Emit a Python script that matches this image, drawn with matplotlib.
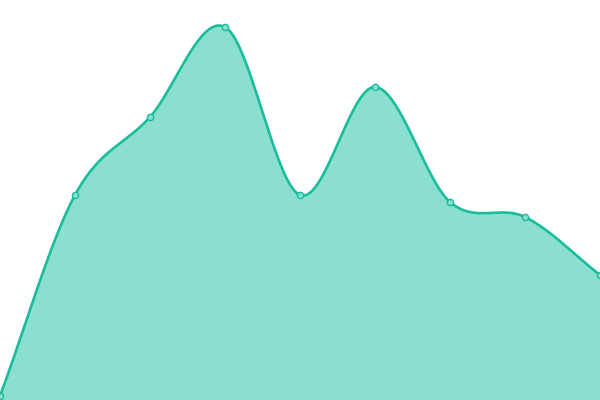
import numpy as np
import matplotlib
matplotlib.use("Agg")
import matplotlib.pyplot as plt

# data
x_vals = [0, 1, 2, 3, 4, 5, 6, 7, 8]
y_vals = [4, 205, 283, 373, 205, 313, 198, 183, 125]

line_color = "#1abc9c"
fill_color = "#8adfce"


def catmull_rom(xs, ys, n=40):
    xs = np.asarray(xs, float)
    ys = np.asarray(ys, float)
    px = np.concatenate([[2 * xs[0] - xs[1]], xs, [2 * xs[-1] - xs[-2]]])
    py = np.concatenate([[2 * ys[0] - ys[1]], ys, [2 * ys[-1] - ys[-2]]])
    out_x, out_y = [], []
    t = np.linspace(0, 1, n, endpoint=False)
    for i in range(1, len(px) - 2):
        for p, out in ((px, out_x), (py, out_y)):
            p0, p1, p2, p3 = p[i - 1], p[i], p[i + 1], p[i + 2]
            seg = 0.5 * ((2 * p1) + (-p0 + p2) * t
                         + (2 * p0 - 5 * p1 + 4 * p2 - p3) * t ** 2
                         + (-p0 + 3 * p1 - 3 * p2 + p3) * t ** 3)
            out.extend(seg)
    out_x.append(xs[-1])
    out_y.append(ys[-1])
    return np.array(out_x), np.array(out_y)


sx, sy = catmull_rom(x_vals, y_vals)

fig = plt.figure(figsize=(6, 4), dpi=100)
ax = fig.add_axes([0, 0, 1, 1])
ax.fill_between(sx, 0, sy, color=fill_color, linewidth=0)
ax.plot(sx, sy, color=line_color, linewidth=1.9, solid_capstyle="round")
ax.plot(x_vals, y_vals, "o", markersize=4.5, markerfacecolor=fill_color,
        markeredgecolor=line_color, markeredgewidth=1.0)
ax.set_xlim(0, 8)
ax.set_ylim(0, 400)
ax.axis("off")
fig.savefig("out.png", dpi=100)
